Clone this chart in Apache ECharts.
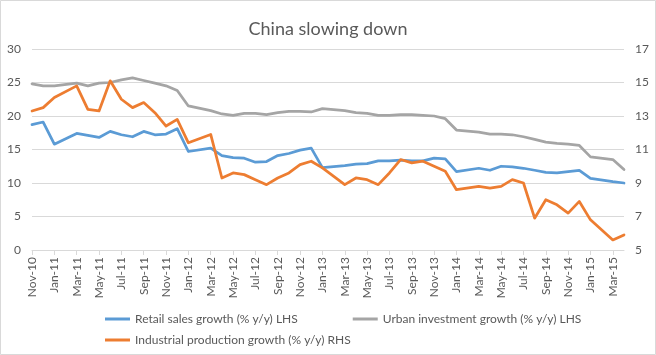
<!DOCTYPE html>
<html>
<head>
<meta charset="utf-8">
<script src="https://cdn.jsdelivr.net/npm/echarts@6/dist/echarts.min.js"></script>
<style>
html,body{margin:0;padding:0;background:#fff;}
#c{width:656px;height:355px;}
</style>
</head>
<body>
<div id="c"></div>
<script>
const categories = [
 "Nov-10","Dec-10",
 "Jan-11","Feb-11","Mar-11","Apr-11","May-11","Jun-11","Jul-11","Aug-11","Sep-11","Oct-11","Nov-11","Dec-11",
 "Jan-12","Feb-12","Mar-12","Apr-12","May-12","Jun-12","Jul-12","Aug-12","Sep-12","Oct-12","Nov-12","Dec-12",
 "Jan-13","Feb-13","Mar-13","Apr-13","May-13","Jun-13","Jul-13","Aug-13","Sep-13","Oct-13","Nov-13","Dec-13",
 "Jan-14","Feb-14","Mar-14","Apr-14","May-14","Jun-14","Jul-14","Aug-14","Sep-14","Oct-14","Nov-14","Dec-14",
 "Jan-15","Feb-15","Mar-15","Apr-15"
];
// Jan-Feb combined releases: February has no separate value (null, line connects across)
const retailSales = [18.7,19.1,15.8,null,17.4,17.1,16.8,17.7,17.2,16.9,17.7,17.2,17.3,18.1,
 14.7,null,15.2,14.1,13.8,13.7,13.1,13.2,14.1,14.4,14.9,15.2,
 12.3,null,12.6,12.8,12.9,13.3,13.3,13.4,13.3,13.3,13.7,13.6,
 11.7,null,12.2,11.9,12.5,12.4,12.2,11.9,11.6,11.5,11.7,11.9,
 10.7,null,10.2,10.0];
const urbanInvestment = [24.8,24.5,24.5,null,24.9,24.5,24.9,25.0,25.4,25.7,25.3,24.9,24.5,23.8,
 21.5,null,20.8,20.3,20.1,20.4,20.4,20.2,20.5,20.7,20.7,20.6,
 21.1,null,20.8,20.5,20.4,20.1,20.1,20.2,20.2,20.1,20.0,19.6,
 17.9,null,17.6,17.3,17.3,17.2,16.9,16.5,16.1,15.9,15.8,15.6,
 13.9,null,13.5,12.0];
const industrialProduction = [13.3,13.5,14.1,null,14.8,13.4,13.3,15.1,14.0,13.5,13.8,13.2,12.4,12.8,
 11.4,null,11.9,9.3,9.6,9.5,9.2,8.9,9.3,9.6,10.1,10.3,
 9.9,null,8.9,9.3,9.2,8.9,9.6,10.4,10.2,10.3,10.0,9.7,
 8.6,null,8.8,8.7,8.8,9.2,9.0,6.9,8.0,7.7,7.2,7.9,
 6.8,null,5.6,5.9];
const seriesNames = [
 "Retail sales growth (% y/y) LHS",
 "Urban investment growth (% y/y) LHS",
 "Industrial production growth (% y/y) RHS"
];

const FONT = 'Lato';
const TXT = '#595959';
const GRID = '#D9D9D9';

const chart = echarts.init(document.getElementById('c'), null, {renderer:'canvas'});
chart.setOption({
  animation:false,
  backgroundColor:'#fff',
  textStyle:{fontFamily:FONT},
  title:{
    text:'China slowing down', left:'center', top:15,
    textStyle:{fontFamily:FONT, fontSize:18, fontWeight:'normal', color:TXT}
  },
  legend:[
    {data:[seriesNames[0], seriesNames[1]], left:100, top:308, itemWidth:25, itemHeight:3, itemGap:55,
     icon:'rect', textStyle:{fontFamily:FONT, fontSize:12, color:TXT}, selectedMode:false},
    {data:[seriesNames[2]], left:100, top:329, itemWidth:25, itemHeight:3,
     icon:'rect', textStyle:{fontFamily:FONT, fontSize:12, color:TXT}, selectedMode:false}
  ],
  grid:{left:32, right:32, top:49, bottom:105, containLabel:false},
  xAxis:{
    type:'category', data:categories, boundaryGap:false,
    axisLine:{lineStyle:{color:GRID}},
    axisTick:{show:true, interval:1, length:5, lineStyle:{color:GRID}},
    axisLabel:{interval:1, rotate:90, margin:7, fontSize:12, color:TXT, fontFamily:FONT},
    splitLine:{show:false}
  },
  yAxis:[
    {type:'value', min:0, max:30, interval:5, position:'left',
     axisLine:{show:false}, axisTick:{show:false},
     axisLabel:{margin:11, fontSize:12, color:TXT, fontFamily:FONT},
     splitLine:{show:true, lineStyle:{color:GRID, width:1}}},
    {type:'value', min:5, max:17, interval:2, position:'right',
     axisLine:{show:false}, axisTick:{show:false},
     axisLabel:{margin:11, fontSize:12, color:TXT, fontFamily:FONT},
     splitLine:{show:false}}
  ],
  series:[
    {name:seriesNames[0], type:'line', data:retailSales, yAxisIndex:0, symbol:'none', connectNulls:true,
     lineStyle:{color:'#5B9BD5', width:2.75, cap:'round', join:'round'}, itemStyle:{color:'#5B9BD5'}},
    {name:seriesNames[1], type:'line', data:urbanInvestment, yAxisIndex:0, symbol:'none', connectNulls:true,
     lineStyle:{color:'#A5A5A5', width:2.75, cap:'round', join:'round'}, itemStyle:{color:'#A5A5A5'}},
    {name:seriesNames[2], type:'line', data:industrialProduction, yAxisIndex:1, symbol:'none', connectNulls:true,
     lineStyle:{color:'#ED7D31', width:2.75, cap:'round', join:'round'}, itemStyle:{color:'#ED7D31'}}
  ],
  graphic:[{type:'rect', silent:true, shape:{x:0.5, y:0.5, width:655, height:354},
    style:{fill:null, stroke:GRID, lineWidth:1}}]
});
</script>
</body>
</html>
